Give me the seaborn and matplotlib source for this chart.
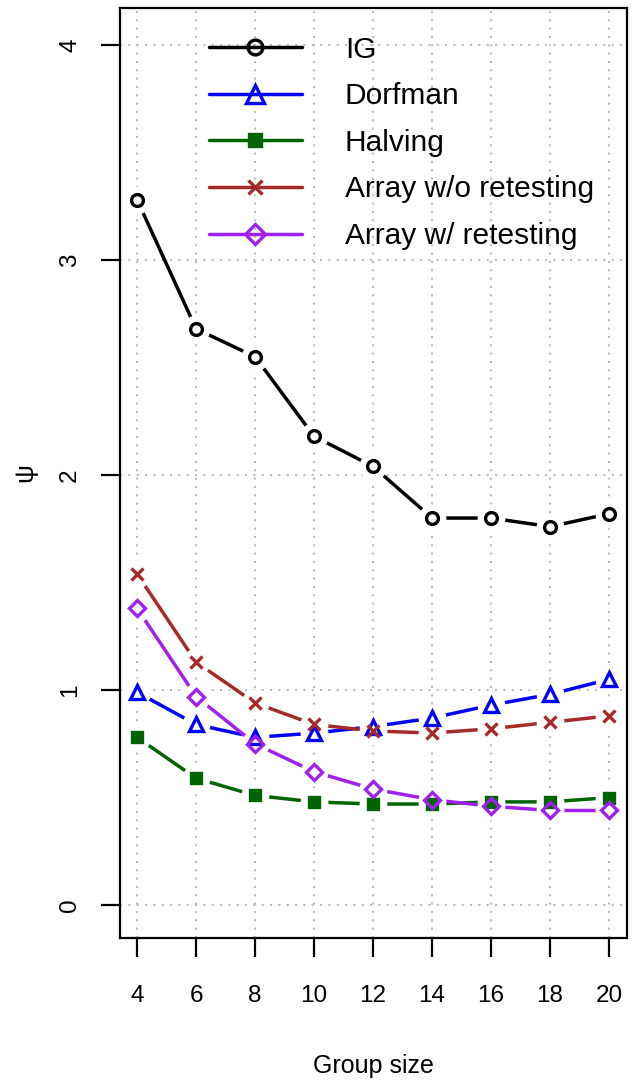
import matplotlib
matplotlib.use("Agg")
import matplotlib.pyplot as plt
import seaborn as sns
import numpy as np

group_sizes = [4, 6, 8, 10, 12, 14, 16, 18, 20]
ig = [3.28, 2.68, 2.55, 2.18, 2.04, 1.80, 1.80, 1.76, 1.82]
dorfman = [0.99, 0.84, 0.78, 0.80, 0.83, 0.87, 0.93, 0.98, 1.05]
halving = [0.78, 0.59, 0.51, 0.48, 0.47, 0.47, 0.48, 0.48, 0.50]
array_wo = [1.54, 1.13, 0.94, 0.84, 0.81, 0.80, 0.82, 0.85, 0.88]
array_w = [1.38, 0.97, 0.75, 0.62, 0.54, 0.49, 0.46, 0.44, 0.44]

series_names = ["IG", "Dorfman", "Halving", "Array w/o retesting", "Array w/ retesting"]
series_values = [ig, dorfman, halving, array_wo, array_w]
colors = ["#000000", "#0000FF", "#006400", "#A52A2A", "#A020F0"]
markers = ["o", "^", "s", "x", "D"]
filled = [False, False, True, False, False]
msizes = [8.5, 10.5, 6.5, 8.5, 8]

y_ticks = [0, 1, 2, 3, 4]

sns.set_style("white")
plt.rcParams["font.family"] = ["Liberation Sans", "DejaVu Sans"]
plt.rcParams["text.color"] = "black"
plt.rcParams["axes.labelcolor"] = "black"
plt.rcParams["xtick.color"] = "black"
plt.rcParams["ytick.color"] = "black"

fig = plt.figure(figsize=(6.37, 10.89), dpi=100)
ax = fig.add_axes([120 / 637, 1 - 938 / 1089, 507 / 637, 930 / 1089])

for i, (name, vals, c, m, f, ms) in enumerate(zip(series_names, series_values, colors, markers, filled, msizes)):
    z = 3 + i * 0.1
    mfc = c if f else "none"
    n0 = len(ax.lines)
    # line (with marker for the legend handle)
    sns.lineplot(x=group_sizes, y=vals, ax=ax, color=c, linewidth=2.5, label=name,
                 marker=m, markersize=ms, markeredgewidth=2.4, markeredgecolor=c,
                 markerfacecolor=mfc)
    for ln in ax.lines[n0:]:
        ln.set_zorder(z)
    # white halo to emulate R type="b" gaps
    halo, = ax.plot(group_sizes, vals, linestyle="none", marker="o", markersize=19,
                    markerfacecolor="white", markeredgecolor="white",
                    label="_nolegend_")
    halo.set_zorder(z + 0.05)
    # markers on top of everything
    mk, = ax.plot(group_sizes, vals, linestyle="none", marker=m, markersize=ms,
                  markeredgewidth=2.4, markeredgecolor=c, markerfacecolor=mfc,
                  label="_nolegend_")
    mk.set_zorder(6 + i * 0.1)

ax.set_xlim(3.42, 20.61)
ax.set_ylim(-0.153, 4.172)
ax.set_xticks(group_sizes)
ax.set_yticks(y_ticks)
ax.set_xticklabels([str(v) for v in group_sizes])
ax.set_yticklabels([str(v) for v in y_ticks], rotation=90, va="center")

ax.grid(True, color="#BEBEBE", linestyle=(0, (1, 3)), linewidth=1.5, zorder=0)
ax.set_axisbelow(True)

for s in ax.spines.values():
    s.set_color("black")
    s.set_linewidth(1.6)
    s.set_visible(True)
    s.set_zorder(10)

ax.tick_params(axis="both", direction="out", length=14, width=1.6, color="black",
               labelsize=17.5, labelcolor="black", bottom=True, left=True)
ax.tick_params(axis="x", pad=20)
ax.tick_params(axis="y", pad=14)

ax.set_xlabel("Group size", fontsize=18, labelpad=34)
ax.set_ylabel("ψ", fontsize=19, labelpad=16)

leg = ax.legend(loc="upper left", bbox_to_anchor=(0.1755, 0.97), frameon=False,
                fontsize=21.5, handlelength=3.1, handletextpad=1.45, labelspacing=0.62,
                borderpad=0, borderaxespad=0, markerscale=1.25)
leg.set_zorder(20)

fig.savefig("out.png", dpi=100)
